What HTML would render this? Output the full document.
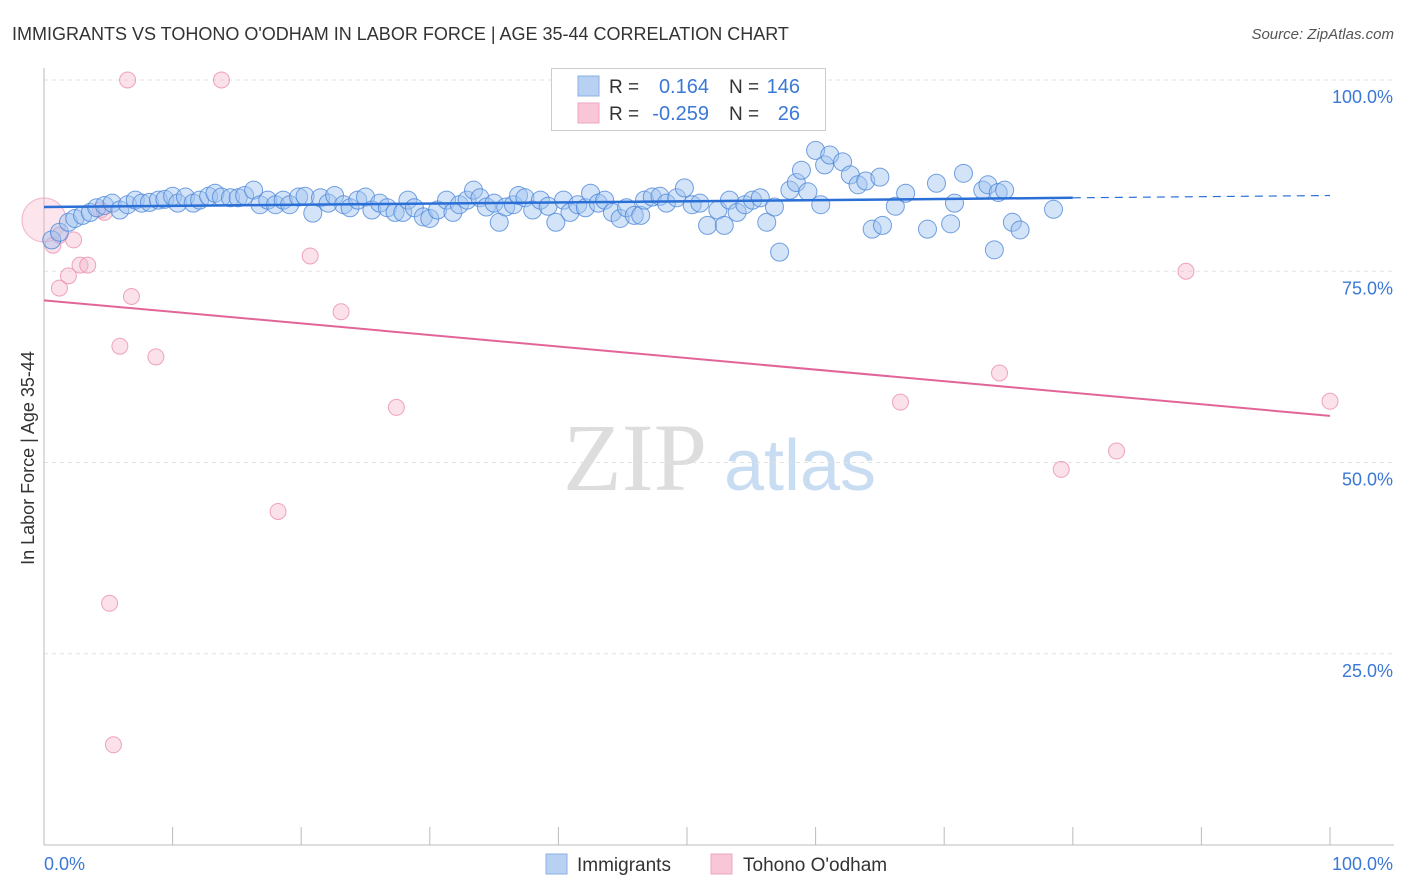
<!DOCTYPE html>
<html><head><meta charset="utf-8"><style>
body{margin:0;background:#fff;font-family:"Liberation Sans",sans-serif}
svg{display:block}
</style></head><body>
<svg id="chart" width="1406" height="892" xmlns="http://www.w3.org/2000/svg">
<text x="12" y="40" font-size="18" fill="#333">IMMIGRANTS VS TOHONO O'ODHAM IN LABOR FORCE | AGE 35-44 CORRELATION CHART</text>
<text x="1394" y="39" font-size="15" fill="#555" font-style="italic" text-anchor="end">Source: ZipAtlas.com</text>
<text x="34" y="458" font-size="18" fill="#333" text-anchor="middle" transform="rotate(-90 34 458)">In Labor Force | Age 35-44</text>
<g>
<text x="635" y="490" font-size="96" font-family="Liberation Serif,serif" fill="#ddd" text-anchor="middle">ZIP</text>
<text x="800" y="490" font-size="72" fill="#c8dcf2" text-anchor="middle">atlas</text>
</g>
<g id="grid"></g>
<g id="axes"></g>
<g id="pts"></g>
<g id="lines"></g>
<g>
<rect x="551.5" y="68.5" width="274" height="62" fill="#fff" stroke="#ccc"/>
<rect x="578" y="76" width="21" height="20" fill="#b8d0f2" stroke="#8ab0e6"/>
<rect x="578" y="103" width="21" height="20" fill="#f8c6d6" stroke="#eea7be"/>
<text x="609" y="93" font-size="19" fill="#333">R =</text>
<text x="709" y="93" font-size="20" fill="#3b78d6" text-anchor="end">0.164</text>
<text x="729" y="93" font-size="19" fill="#333">N =</text>
<text x="800" y="93" font-size="20" fill="#3b78d6" text-anchor="end">146</text>
<text x="609" y="120" font-size="19" fill="#333">R =</text>
<text x="709" y="120" font-size="20" fill="#3b78d6" text-anchor="end">-0.259</text>
<text x="729" y="120" font-size="19" fill="#333">N =</text>
<text x="800" y="120" font-size="20" fill="#3b78d6" text-anchor="end">26</text>
</g>
<g>
<rect x="546" y="854" width="21" height="20" fill="#b8d0f2" stroke="#8ab0e6"/>
<text x="577" y="871" font-size="19" fill="#333">Immigrants</text>
<rect x="711" y="854" width="21" height="20" fill="#f8c6d6" stroke="#eea7be"/>
<text x="743" y="871" font-size="19" fill="#333">Tohono O'odham</text>
</g>
</svg>
<script>
const blueX=[0.6,1.2,1.9,2.4,3.0,3.6,4.1,4.7,5.3,5.9,6.5,7.1,7.6,8.2,8.9,9.4,10.0,10.4,11.0,11.6,12.1,12.8,13.3,13.8,14.5,15.1,15.6,16.3,16.8,17.4,18.0,18.6,19.1,19.8,20.3,20.9,21.5,22.1,22.6,23.3,23.8,24.4,25.0,25.5,26.1,26.7,27.3,27.9,28.3,28.8,29.5,30.0,30.6,31.3,31.8,32.3,32.9,33.4,33.9,34.4,35.0,35.4,35.9,36.5,36.9,37.4,38.0,38.6,39.2,39.8,40.4,40.9,41.5,42.1,42.5,43.1,43.6,44.2,44.8,45.3,45.9,46.4,46.7,47.3,47.9,48.4,49.2,49.8,50.4,51.0,51.6,52.4,52.9,53.3,53.9,54.5,55.1,55.7,56.2,56.8,57.2,58.0,58.5,58.9,59.4,60.0,60.4,60.7,61.1,62.1,62.7,63.3,63.9,64.4,65.0,65.2,66.2,67.0,68.7,69.4,70.5,70.8,71.5,73.0,73.4,73.9,74.2,74.7,75.3,75.9,78.5];
const blueY=[79.1,80.1,81.4,81.9,82.3,82.7,83.3,83.6,83.9,83.0,83.7,84.3,83.9,84.0,84.3,84.4,84.8,83.9,84.7,83.9,84.3,84.8,85.2,84.7,84.6,84.6,84.9,85.6,83.7,84.3,83.7,84.3,83.7,84.7,84.8,82.6,84.6,83.9,84.9,83.7,83.3,84.3,84.7,83.0,83.9,83.3,82.7,82.7,84.3,83.3,82.1,81.9,83.0,84.3,82.7,83.7,84.3,85.6,84.6,83.4,83.9,81.4,83.4,83.7,84.9,84.6,83.0,84.3,83.5,81.4,84.3,82.7,83.7,83.3,85.2,83.9,84.3,82.7,81.9,83.3,82.3,82.3,84.3,84.7,84.8,83.9,84.6,85.9,83.7,83.9,81.0,83.0,81.0,84.3,82.7,83.7,84.3,84.6,81.4,83.4,77.5,85.6,86.6,88.2,85.4,90.8,83.7,88.9,90.2,89.3,87.6,86.3,86.8,80.5,87.3,81.0,83.5,85.2,80.5,86.5,81.2,83.9,87.8,85.6,86.3,77.8,85.3,85.6,81.4,80.4,83.1];
const pinkX=[0.7,1.2,1.2,1.9,2.3,2.8,3.4,4.4,4.7,5.1,5.4,5.9,6.5,6.8,8.7,13.8,18.2,20.7,23.1,27.4,66.6,74.3,79.1,83.4,88.8,100];
const pinkY=[78.4,79.7,72.8,74.4,79.1,75.8,75.8,83.0,82.7,31.6,13.1,65.2,100,71.7,63.8,100,43.6,77.0,69.7,57.2,57.9,61.7,49.1,51.5,75.0,58.0];
const yTicks=[25,50,75,100];
const yTickLabels=["25.0%","50.0%","75.0%","100.0%"];
const blueTrend=[83.4,84.9];
const pinkTrend=[71.2,56.1];
const NS="http://www.w3.org/2000/svg";
const X0=44,X1=1330,Y0=845,Y100=80;
const sx=v=>X0+(X1-X0)*v/100;
const sy=v=>Y0-(Y0-Y100)*v/100;
function mk(tag,attrs,parent){const e=document.createElementNS(NS,tag);for(const k in attrs)e.setAttribute(k,attrs[k]);parent.appendChild(e);return e;}
const grid=document.getElementById('grid'),axes=document.getElementById('axes'),pts=document.getElementById('pts'),lines=document.getElementById('lines');
yTicks.forEach((t,i)=>{
 const l=mk('line',{x1:X0,x2:1394,y1:sy(t),y2:sy(t),stroke:'#e2e2e2','stroke-dasharray':'4,4'},grid);
 
 
 const tx=mk('text',{x:1393,y:sy(t)+23,'font-size':18,fill:'#3b78d6','text-anchor':'end'},axes);
 tx.textContent=yTickLabels[i];
 
 
});
const ax=mk('line',{x1:X0,x2:1394,y1:Y0,y2:Y0,stroke:'#bbb'},axes);


const ay=mk('line',{x1:X0,x2:X0,y1:68,y2:Y0,stroke:'#bbb'},axes);


for(let i=1;i<=10;i++){
 const t=mk('line',{x1:sx(i*10),x2:sx(i*10),y1:Y0,y2:Y0-18,stroke:'#bbb'},axes);
 
 
}
const xl0=mk('text',{x:44,y:870,'font-size':18,fill:'#3b78d6'},axes);xl0.textContent='0.0%';


const xl1=mk('text',{x:1393,y:870,'font-size':18,fill:'#3b78d6','text-anchor':'end'},axes);xl1.textContent='100.0%';


const big=mk('circle',{cx:sx(0),cy:sy(81.7),r:22,fill:'rgba(246,180,200,0.35)',stroke:'rgba(232,140,170,0.6)'},pts);


pinkX.forEach((x,i)=>{
 const c=mk('circle',{cx:sx(x),cy:sy(pinkY[i]),r:8,fill:'rgba(246,180,200,0.4)',stroke:'rgba(232,130,165,0.7)'},pts);
 
 
});
blueX.forEach((x,i)=>{
 const c=mk('circle',{cx:sx(x),cy:sy(blueY[i]),r:9,fill:'rgba(160,195,240,0.45)',stroke:'rgba(70,130,215,0.75)'},pts);
 
 
});
const b80=blueTrend[0]+(blueTrend[1]-blueTrend[0])*0.8;
const bl=mk('line',{x1:sx(0),y1:sy(blueTrend[0]),x2:sx(80),y2:sy(b80),stroke:'#2a6fd6','stroke-width':2.5},lines);


const bd=mk('line',{x1:sx(80),y1:sy(b80),x2:sx(100),y2:sy(blueTrend[1]),stroke:'#2a6fd6','stroke-width':1.2,'stroke-dasharray':'8,6'},lines);


const pl=mk('line',{x1:sx(0),y1:sy(pinkTrend[0]),x2:sx(100),y2:sy(pinkTrend[1]),stroke:'#e2659a','stroke-width':2},lines);


</script>
</body></html>
